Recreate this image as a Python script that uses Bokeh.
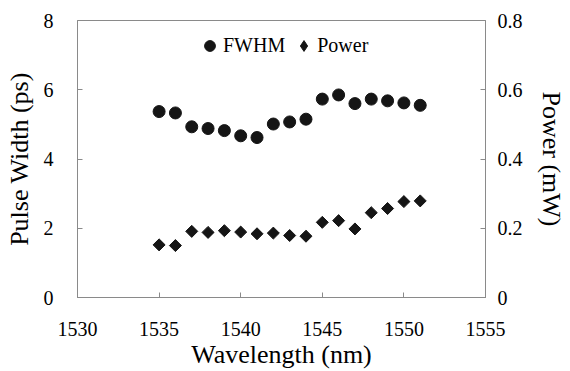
from bokeh.plotting import figure
from bokeh.models import Range1d, LinearAxis, FixedTicker, CustomJSTickFormatter, Legend, LegendItem
from bokeh.embed import file_html
from bokeh.resources import INLINE
import math

wavelength = [1535, 1536, 1537, 1538, 1539, 1540, 1541, 1542, 1543, 1544, 1545, 1546, 1547, 1548, 1549, 1550, 1551]
fwhm = [5.37, 5.33, 4.93, 4.88, 4.82, 4.67, 4.62, 5.01, 5.07, 5.15, 5.73, 5.85, 5.60, 5.73, 5.68, 5.62, 5.55]
power = [0.152, 0.150, 0.191, 0.188, 0.193, 0.189, 0.184, 0.186, 0.179, 0.177, 0.217, 0.222, 0.198, 0.245, 0.257, 0.277, 0.279]

x_ticks = [1530, 1535, 1540, 1545, 1550, 1555]
y_ticks = [0, 2, 4, 6, 8]
p_ticks = [0, 0.2, 0.4, 0.6, 0.8]

FONT = "Liberation Serif"
AX = "#8a8a8a"
MK = "#151515"

p = figure(width=570, height=371, output_backend="svg", toolbar_location=None,
           x_range=Range1d(1530, 1555), y_range=Range1d(0, 8),
           min_border_left=77, min_border_right=85, min_border_top=20, min_border_bottom=73)
p.extra_y_ranges = {"power": Range1d(0, 0.8)}
p.grid.visible = False
p.outline_line_color = AX
p.background_fill_color = "white"
p.border_fill_color = "white"

def style(ax, standoff, lab_standoff):
    ax.axis_line_color = AX
    ax.major_tick_line_color = AX
    ax.major_tick_in = 5
    ax.major_tick_out = 0
    ax.minor_tick_line_color = None
    ax.major_label_text_font = FONT
    ax.major_label_text_font_size = "20px"
    ax.major_label_text_color = "black"
    ax.axis_label_text_font = FONT
    ax.axis_label_text_font_size = "26px"
    ax.axis_label_text_font_style = "normal"
    ax.axis_label_text_color = "black"
    ax.major_label_standoff = standoff
    ax.axis_label_standoff = lab_standoff

xa = p.xaxis[0]
xa.ticker = FixedTicker(ticks=x_ticks)
xa.axis_label = "Wavelength (nm)"
style(xa, 24, 1)

ya = p.yaxis[0]
ya.ticker = FixedTicker(ticks=y_ticks)
ya.axis_label = "Pulse Width (ps)"
style(ya, 24, 7)

ra = LinearAxis(y_range_name="power", axis_label="Power (mW)")
ra.ticker = FixedTicker(ticks=p_ticks)
ra.formatter = CustomJSTickFormatter(code="return String(Math.round(tick*10)/10);")
style(ra, 12, 11)
p.add_layout(ra, "right")

r1 = p.scatter(wavelength, fwhm, marker="circle", size=12, fill_color=MK, line_color=MK)
# small diamond hidden under the rotated squares: used only for the legend glyph
r2_leg = p.scatter(wavelength, power, y_range_name="power", marker="diamond", size=6,
                   fill_color=MK, line_color=MK)
r2 = p.scatter(wavelength, power, y_range_name="power", marker="square", size=8.5, angle=math.pi / 4,
               fill_color=MK, line_color=MK)

legend = Legend(items=[LegendItem(label="FWHM", renderers=[r1]), LegendItem(label="Power", renderers=[r2_leg])],
                orientation="horizontal", location=(119, 238), padding=0, margin=0,
                glyph_width=27, glyph_height=27, label_standoff=0, spacing=5,
                label_text_font=FONT, label_text_font_size="20px", label_text_color="black",
                border_line_color=None, background_fill_alpha=0)
p.add_layout(legend, "center")

open("out.html", "w").write(file_html(p, INLINE))
